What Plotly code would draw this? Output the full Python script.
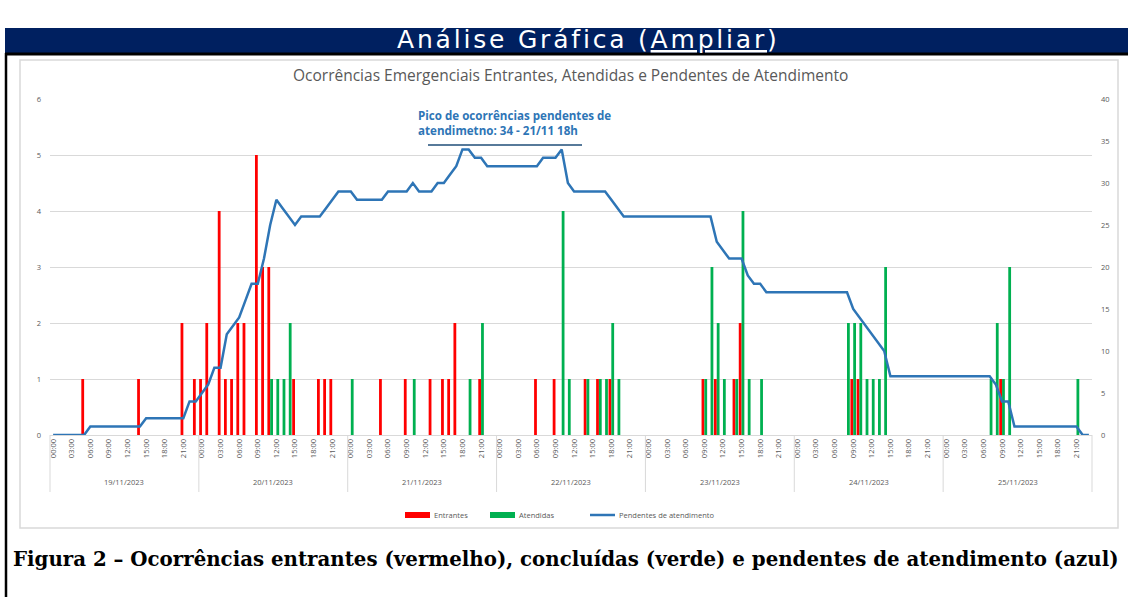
import plotly.graph_objects as go

# ---------------- data ----------------
days = ["19/11/2023", "20/11/2023", "21/11/2023", "22/11/2023",
        "23/11/2023", "24/11/2023", "25/11/2023"]
hours = ["00:00", "01:00", "02:00", "03:00", "04:00", "05:00", "06:00", "07:00",
         "08:00", "09:00", "10:00", "11:00", "12:00", "13:00", "14:00", "15:00",
         "16:00", "17:00", "18:00", "19:00", "20:00", "21:00", "22:00", "23:00"]

# one row per day, 24 hourly values
entrantes = [
    0,0,0,0,0,1,0,0,0,0,0,0,0,0,1,0,0,0,0,0,0,2,0,1,
    1,2,0,4,1,1,2,2,0,5,3,3,0,0,0,1,0,0,0,1,1,1,0,0,
    0,0,0,0,0,1,0,0,0,1,0,0,0,1,0,1,1,2,0,0,0,1,0,0,
    0,0,0,0,0,0,1,0,0,1,0,0,0,0,1,0,1,0,1,0,0,0,0,0,
    0,0,0,0,0,0,0,0,0,1,0,1,0,0,1,2,0,0,0,0,0,0,0,0,
    0,0,0,0,0,0,0,0,0,1,1,0,0,0,0,0,0,0,0,0,0,0,0,0,
    0,0,0,0,0,0,0,0,0,1,0,0,0,0,0,0,0,0,0,0,0,0,0,0,
]
atendidas = [
    0,0,0,0,0,0,0,0,0,0,0,0,0,0,0,0,0,0,0,0,0,0,0,0,
    0,0,0,0,0,0,0,0,0,0,0,1,1,1,2,0,0,0,0,0,0,0,0,0,
    1,0,0,0,0,0,0,0,0,0,1,0,0,0,0,0,0,0,0,1,0,2,0,0,
    0,0,0,0,0,0,0,0,0,0,4,1,0,0,1,0,1,1,2,1,0,0,0,0,
    0,0,0,0,0,0,0,0,0,1,3,2,1,0,1,4,1,0,1,0,0,0,0,0,
    0,0,0,0,0,0,0,0,2,2,2,1,1,1,3,0,0,0,0,0,0,0,0,0,
    0,0,0,0,0,0,0,1,2,1,3,0,0,0,0,0,0,0,0,0,0,1,0,0,
]
pendentes = [
    0,0,0,0,0,0,1,1,1,1,1,1,1,1,1,2,2,2,2,2,2,2,4,4,
    5,6,8,8,12,13,14,16,18,18,21,25,28,27,26,25,26,26,26,26,27,28,29,29,
    29,28,28,28,28,28,29,29,29,29,30,29,29,29,30,30,31,32,34,34,33,33,32,32,
    32,32,32,32,32,32,32,33,33,33,34,30,29,29,29,29,29,29,28,27,26,26,26,26,
    26,26,26,26,26,26,26,26,26,26,26,23,22,21,21,21,19,18,18,17,17,17,17,17,
    17,17,17,17,17,17,17,17,17,15,14,13,12,11,10,7,7,7,7,7,7,7,7,7,
    7,7,7,7,7,7,7,7,6,4,4,1,1,1,1,1,1,1,1,1,1,1,0,0,
]

cats = [f"{d} {h}" for d in days for h in hours]
n = len(cats)
tick_vals = cats[::3]
tick_text = [c.split(" ")[1] for c in tick_vals]

RED = "#FF0000"
GREEN = "#00B050"
BLUE = "#2E75B6"
GRAY_TXT = "#595959"
GRID = "#D9D9D9"
FONT = "Open Sans"

fig = go.Figure()
fig.add_trace(go.Bar(x=cats, y=entrantes, name="Entrantes",
                     marker=dict(color=RED, line=dict(width=0)), showlegend=False))
fig.add_trace(go.Bar(x=cats, y=atendidas, name="Atendidas",
                     marker=dict(color=GREEN, line=dict(width=0)), showlegend=False))
fig.add_trace(go.Scatter(x=cats, y=pendentes, name="Pendentes de atendimento", yaxis="y2",
                         mode="lines", line=dict(color=BLUE, width=2.5),
                         showlegend=False))

# pixel -> paper helpers (plot area: x 50..1092, y 99..435)
L, R, T, B = 50, 1092, 99, 435
W, H = 1128, 597
def px(x):
    return (x - L) / (R - L)
def py(y):
    return (B - y) / (B - T)

shapes = []
# header bar
shapes.append(dict(type="rect", xref="paper", yref="paper", x0=px(5), x1=px(1130),
                   y0=py(53), y1=py(28), fillcolor="#002060", line=dict(width=0), layer="below"))
shapes.append(dict(type="line", xref="paper", yref="paper", x0=px(5), x1=px(1130),
                   y0=py(54), y1=py(54), line=dict(color="#000000", width=3)))
shapes.append(dict(type="line", xref="paper", yref="paper", x0=px(6), x1=px(6),
                   y0=py(53), y1=py(600), line=dict(color="#000000", width=2.5)))
# chart area border
shapes.append(dict(type="rect", xref="paper", yref="paper", x0=px(20), x1=px(1118),
                   y0=py(528), y1=py(60), line=dict(color=GRID, width=1.5), layer="below"))
# day separators on the category axis
for d in range(len(days) + 1):
    xp = d * len(hours) / n
    shapes.append(dict(type="line", xref="paper", yref="paper", x0=xp, x1=xp,
                       y0=0, y1=py(492), line=dict(color=GRID, width=1)))
# peak callout underline
shapes.append(dict(type="line", xref="paper", yref="paper", x0=px(428), x1=px(582),
                   y0=py(145), y1=py(145), line=dict(color="#1F4E79", width=1.5)))
# legend swatches
shapes.append(dict(type="rect", xref="paper", yref="paper", x0=px(405), x1=px(430),
                   y0=py(518), y1=py(512), fillcolor=RED, line=dict(width=0)))
shapes.append(dict(type="rect", xref="paper", yref="paper", x0=px(490), x1=px(515),
                   y0=py(518), y1=py(512), fillcolor=GREEN, line=dict(width=0)))
shapes.append(dict(type="line", xref="paper", yref="paper", x0=px(590), x1=px(615),
                   y0=py(515), y1=py(515), line=dict(color=BLUE, width=2.5)))

annotations = []
annotations.append(dict(
    text='<span style="letter-spacing:2.8px">Análise Gráfica (<span style="text-decoration:underline">Ampliar</span>)</span>',
    xref="paper", yref="paper", x=px(588), y=py(40), xanchor="center", yanchor="middle",
    showarrow=False, font=dict(family="DejaVu Sans", size=25, color="#FFFFFF")))
annotations.append(dict(
    text="Ocorrências Emergenciais Entrantes, Atendidas e Pendentes de Atendimento",
    xref="paper", yref="paper", x=px(570), y=py(75), xanchor="center", yanchor="middle",
    showarrow=False, font=dict(family=FONT, size=15.5, color=GRAY_TXT)))
for i, d in enumerate(days):
    annotations.append(dict(text=d, xref="paper", yref="paper",
                            x=(i + 0.5) * len(hours) / n, y=py(482),
                            xanchor="center", yanchor="middle", showarrow=False,
                            font=dict(family=FONT, size=7.5, color=GRAY_TXT)))
annotations.append(dict(
    text="<b>Pico de ocorrências pendentes de<br>atendimetno: 34 - 21/11 18h</b>",
    xref="paper", yref="paper", x=px(416), y=py(123), xanchor="left", yanchor="middle",
    align="left", showarrow=False, font=dict(family=FONT, size=11.6, color=BLUE)))
for label, xl in [("Entrantes", 432), ("Atendidas", 517), ("Pendentes de atendimento", 617)]:
    annotations.append(dict(text=label, xref="paper", yref="paper", x=px(xl), y=py(515),
                            xanchor="left", yanchor="middle", showarrow=False,
                            font=dict(family=FONT, size=7.5, color=GRAY_TXT)))
annotations.append(dict(
    text="<b>Figura 2 – Ocorrências entrantes (vermelho), concluídas (verde) e pendentes de atendimento (azul)</b>",
    xref="paper", yref="paper", x=px(566), y=py(559), xanchor="center", yanchor="middle",
    showarrow=False, font=dict(family="DejaVu Serif", size=19.8, color="#000000")))

fig.update_layout(
    width=W, height=H,
    margin=dict(l=L, r=W - R, t=T, b=H - B),
    paper_bgcolor="#FFFFFF", plot_bgcolor="#FFFFFF",
    barmode="group", bargap=0.1, bargroupgap=0,
    xaxis=dict(type="category", categoryorder="array", categoryarray=cats,
               range=[-0.5, n - 0.5], tickmode="array", tickvals=tick_vals,
               ticktext=tick_text, tickangle=-90, showgrid=False, zeroline=False,
               showline=True, linecolor=GRID, linewidth=1, ticks="",
               tickfont=dict(family=FONT, size=7.5, color=GRAY_TXT)),
    yaxis=dict(range=[0, 6], dtick=1, showgrid=True, gridcolor=GRID, gridwidth=1,
               zeroline=False, showline=False, ticks="", ticklabelstandoff=8,
               tickfont=dict(family=FONT, size=7.5, color=GRAY_TXT)),
    yaxis2=dict(range=[0, 40], dtick=5, overlaying="y", side="right", showgrid=False,
                zeroline=False, showline=False, ticks="", ticklabelstandoff=8,
                tickfont=dict(family=FONT, size=7.5, color=GRAY_TXT)),
    shapes=shapes, annotations=annotations, showlegend=False,
)

fig.write_html("out.html", config={"displayModeBar": False},
               post_script="document.body.style.margin='0px';document.body.style.overflow='hidden';")
